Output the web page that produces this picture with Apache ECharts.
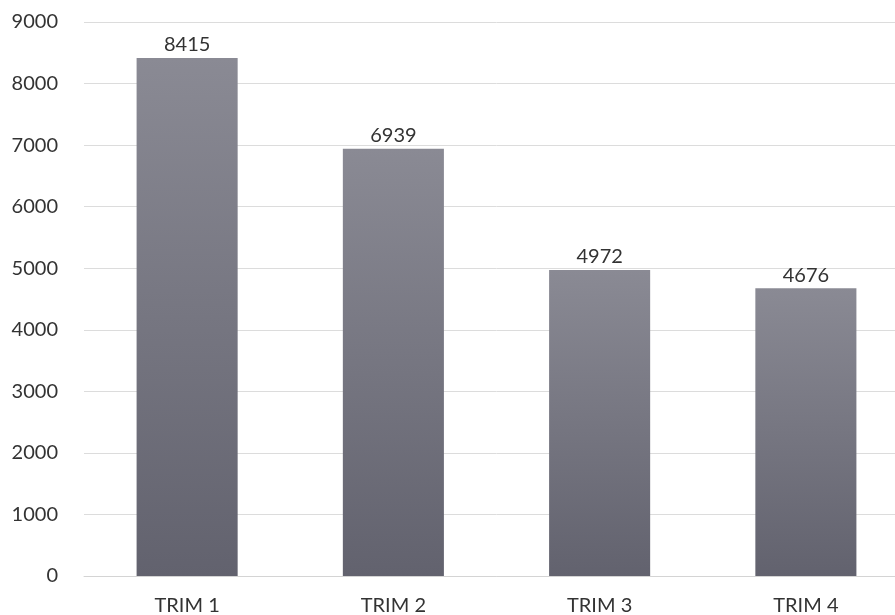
<!DOCTYPE html>
<html>
<head>
<meta charset="utf-8">
<script src="https://cdn.jsdelivr.net/npm/echarts@6/dist/echarts.min.js"></script>
<style>
  html, body { margin: 0; padding: 0; background: #ffffff; overflow: hidden; }
  /* plot area runs slightly past the right edge of the window */
  #chart { width: 912px; height: 615px; }
</style>
</head>
<body>
<div id="chart"></div>
<script>
// Quarterly totals
const categories = ['TRIM 1', 'TRIM 2', 'TRIM 3', 'TRIM 4'];
const values = [8415, 6939, 4972, 4676];
const yTicks = [0, 1000, 2000, 3000, 4000, 5000, 6000, 7000, 8000, 9000];

const chart = echarts.init(document.getElementById('chart'));
const textColor = '#333333';
const fontFamily = 'Lato';

chart.setOption({
  backgroundColor: '#ffffff',
  animation: false,
  grid: {
    left: 84, right: 3, top: 22, bottom: 39,
    containLabel: false,
    outerBoundsMode: 'none'
  },
  xAxis: {
    type: 'category',
    data: categories,
    axisLine: { show: true, lineStyle: { color: '#d4d4d4', width: 1 } },
    axisTick: { show: false },
    axisLabel: { color: textColor, fontFamily: fontFamily, fontSize: 20, margin: 20 }
  },
  yAxis: {
    type: 'value',
    min: yTicks[0],
    max: yTicks[yTicks.length - 1],
    interval: 1000,
    axisLine: { show: false },
    axisTick: { show: false },
    splitLine: { lineStyle: { color: '#dcdcdc', width: 1 } },
    axisLabel: {
      color: textColor,
      fontFamily: fontFamily,
      fontSize: 20,
      margin: 26,
      formatter: (v) => String(v)
    }
  },
  series: [{
    type: 'bar',
    data: values,
    barWidth: '49%',
    itemStyle: {
      color: new echarts.graphic.LinearGradient(0, 0, 0, 1, [
        { offset: 0, color: '#8a8a94' },
        { offset: 1, color: '#62626e' }
      ])
    },
    label: {
      show: true,
      position: 'top',
      distance: 3,
      color: textColor,
      fontFamily: fontFamily,
      fontSize: 20
    }
  }]
});
</script>
</body>
</html>
